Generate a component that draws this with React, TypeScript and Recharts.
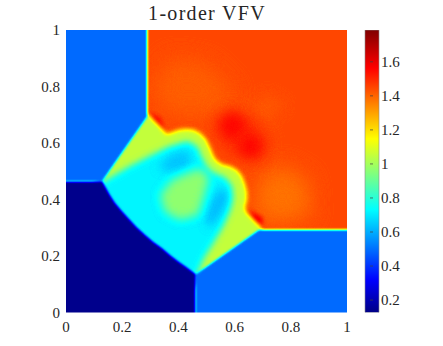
import React from 'react';
import { ScatterChart, Scatter, XAxis, YAxis, BarChart, Bar } from 'recharts';

type P = [number, number];
const title = '1-order VFV';
const xTicks = [0, 0.2, 0.4, 0.6, 0.8, 1];
const yTicks = [0, 0.2, 0.4, 0.6, 0.8, 1];
const cbarTicks = [0.2, 0.4, 0.6, 0.8, 1, 1.2, 1.4, 1.6];
const cbarRange: [number, number] = [0.127, 1.787];

// Level-set outlines of the density field, in data units.
const domainBox: P[] = [[-0.1, -0.1], [1.1, -0.1], [1.1, 1.1], [-0.1, 1.1]];
const orangeTop: P[] = [[0.3, 0.8], [0.38, 0.9], [0.5, 0.88], [0.6, 0.78], [0.52, 0.7], [0.36, 0.7]];
const orangeRight: P[] = [[0.66, 0.724], [0.715, 0.775], [0.78, 0.735], [0.715, 0.68]];
const orangeLow: P[] = [[0.69, 0.48], [0.77, 0.52], [0.86, 0.47], [0.87, 0.34], [0.72, 0.31], [0.665, 0.38]];
const redBand: P[] = [[0.52, 0.67], [0.59, 0.72], [0.66, 0.68], [0.72, 0.6], [0.69, 0.53], [0.62, 0.55], [0.56, 0.6]];
const redSpotA: P[] = [[0.548, 0.664], [0.591, 0.706], [0.637, 0.664], [0.591, 0.618]];
const redSpotB: P[] = [[0.619, 0.586], [0.655, 0.628], [0.698, 0.586], [0.655, 0.547]];
const redCornerA: P[] = [[0.292, 0.71], [0.335, 0.688], [0.352, 0.639], [0.299, 0.664]];
const redCornerB: P[] = [[0.648, 0.363], [0.698, 0.335], [0.698, 0.299], [0.662, 0.32]];
const mushroom: P[] = [[0.292, 0.703], [0.327, 0.667], [0.359, 0.632], [0.377, 0.638], [0.399, 0.646], [0.423, 0.65], [0.452, 0.648], [0.477, 0.635], [0.498, 0.614], [0.512, 0.586], [0.523, 0.558], [0.534, 0.54], [0.555, 0.525], [0.584, 0.518], [0.609, 0.504], [0.626, 0.483], [0.637, 0.455], [0.644, 0.426], [0.644, 0.398], [0.637, 0.373], [0.641, 0.356], [0.655, 0.342], [0.694, 0.303], [0.698, 0.257], [0.441, 0.079], [0.085, 0.434], [0.263, 0.699]];
const cavity: P[] = [[0.135, 0.465], [0.221, 0.515], [0.306, 0.558], [0.363, 0.586], [0.431, 0.607], [0.466, 0.589], [0.484, 0.55], [0.502, 0.515], [0.527, 0.494], [0.566, 0.48], [0.591, 0.448], [0.594, 0.409], [0.587, 0.37], [0.562, 0.31], [0.527, 0.25], [0.491, 0.193], [0.47, 0.143], [0.441, 0.097], [0.085, 0.434]];
const lobeUpper: P[] = [[0.327, 0.511], [0.37, 0.558], [0.423, 0.575], [0.448, 0.554], [0.434, 0.518], [0.377, 0.497]];
const lobeRight: P[] = [[0.555, 0.448], [0.577, 0.409], [0.555, 0.356], [0.512, 0.299], [0.498, 0.327], [0.52, 0.398]];
const greenCore: P[] = [[0.335, 0.416], [0.377, 0.469], [0.441, 0.497], [0.477, 0.51], [0.51, 0.48], [0.491, 0.409], [0.47, 0.345], [0.406, 0.327], [0.352, 0.356]];
const blueNW: P[] = [[-0.1, 1.1], [0.289, 1.1], [0.289, 0.693], [0.129, 0.465], [-0.1, 0.465]];
const blueSE: P[] = [[0.4615, -0.1], [1.1, -0.1], [1.1, 0.293], [0.687, 0.293], [0.4615, 0.135]];
const navySW: P[] = [[-0.1, -0.1], [0.4615, -0.1], [0.4615, 0.135], [0.453, 0.142], [0.428, 0.16], [0.4, 0.18], [0.37, 0.203], [0.341, 0.227], [0.31, 0.25], [0.281, 0.274], [0.25, 0.303], [0.222, 0.333], [0.197, 0.36], [0.174, 0.388], [0.155, 0.417], [0.139, 0.445], [0.129, 0.465], [-0.1, 0.465]];

// outline, field value, softness in px; painted in this order
const layers: [P[], number, number][] = [
  [domainBox, 1.45, 0],
  [orangeTop, 1.41, 10],
  [orangeRight, 1.42, 6],
  [orangeLow, 1.38, 10],
  [redBand, 1.52, 8],
  [redSpotA, 1.56, 6],
  [redSpotB, 1.56, 6],
  [redCornerA, 1.6, 2.5],
  [redCornerB, 1.62, 2.5],
  [mushroom, 1.05, 2.2],
  [cavity, 0.72, 3],
  [lobeUpper, 0.64, 4],
  [lobeRight, 0.62, 4],
  [greenCore, 0.97, 5],
  [blueNW, 0.49, 1],
  [blueSE, 0.49, 1],
  [navySW, 0.14, 1],
];
const fieldPoints = layers.flatMap(([poly]) => poly.map(([x, y]) => ({ x, y })));

const jetStops: [number, number, number, number][] = [
  [0, 0, 0, 0.52], [0.115, 0, 0, 1], [0.365, 0, 1, 1], [0.615, 1, 1, 0], [0.865, 1, 0, 0], [1, 0.5, 0, 0],
];
const jetAt = (t: number, c: number) => {
  for (let i = 1; i < jetStops.length; i++) {
    const a = jetStops[i - 1], b = jetStops[i];
    if (t <= b[0]) return a[c] + ((b[c] - a[c]) * (t - a[0])) / (b[0] - a[0]);
  }
  return jetStops[jetStops.length - 1][c];
};
const tableSteps = Array.from({ length: 129 }, (_, i) => i / 128);
const table = (c: number) => tableSteps.map((t) => jetAt(t, c).toFixed(4)).join(' ');
const grayOf = (v: number) => {
  const g = Math.round((255 * (v - cbarRange[0])) / (cbarRange[1] - cbarRange[0]));
  return `rgb(${g},${g},${g})`;
};
const blurs = Array.from(new Set(layers.map((l) => l[2]))).filter((b) => b > 0);
const blurId = (b: number) => `blur${String(b).replace('.', '_')}`;
const region = { filterUnits: 'userSpaceOnUse' as const, x: -50, y: -50, width: 543, height: 446, colorInterpolationFilters: 'sRGB' as const };

function Field(props: any) {
  const pts: { x: number; y: number }[] = props.points;
  let at = 0;
  return (
    <g>
      <defs>
        {blurs.map((b) => (
          <filter key={b} id={blurId(b)} {...region}>
            <feGaussianBlur stdDeviation={b} />
          </filter>
        ))}
        <filter id="jetMap" {...region}>
          <feComponentTransfer>
            <feFuncR type="table" tableValues={table(1)} />
            <feFuncG type="table" tableValues={table(2)} />
            <feFuncB type="table" tableValues={table(3)} />
          </feComponentTransfer>
        </filter>
      </defs>
      <g filter="url(#jetMap)">
        {layers.map(([poly, v, b], i) => {
          const seg = pts.slice(at, at + poly.length);
          at += poly.length;
          return (
            <polygon
              key={i}
              points={seg.map((p) => `${p.x},${p.y}`).join(' ')}
              fill={grayOf(v)}
              stroke="none"
              filter={b > 0 ? `url(#${blurId(b)})` : undefined}
            />
          );
        })}
      </g>
    </g>
  );
}

const FONT = 'Liberation Serif';
const tickStyle = { fontFamily: FONT, fontSize: 15, fill: '#262626', style: { fontFamily: FONT } };
const cbarData = [{ name: 'density', range: cbarRange }];

function CbarTick(props: any) {
  const { x, y, payload } = props;
  return (
    <g>
      <line x1={x - 17} x2={x - 14} y1={y} y2={y} stroke="#404040" strokeWidth={0.7} />
      <text x={x - 6} y={y + 5} {...tickStyle} textAnchor="start">{String(payload.value)}</text>
    </g>
  );
}

export default function App() {
  return (
    <div style={{ position: 'absolute', left: 0, top: 0, width: 443, height: 346, background: '#fff', fontFamily: FONT }}>
      <div style={{ position: 'absolute', left: 0, top: 0 }}>
        <ScatterChart width={443} height={346} margin={{ top: 30, left: 0, right: 96, bottom: 13.5 }} style={{ fontFamily: FONT }}>
          <text x={207} y={20} textAnchor="middle" fontFamily={FONT} style={{ fontFamily: FONT }} fontSize={20} letterSpacing={1.3} fill="#262626">{title}</text>
          <XAxis type="number" dataKey="x" domain={[0, 1]} allowDataOverflow ticks={xTicks} interval={0} height={20} axisLine={false} tickLine={false} tickMargin={3} tick={tickStyle} />
          <YAxis type="number" dataKey="y" domain={[0, 1]} allowDataOverflow ticks={yTicks} interval={0} width={66} axisLine={false} tickLine={false} tickMargin={0} tick={tickStyle} />
          <Scatter data={fieldPoints} isAnimationActive={false} shape={() => null} line={(p: any) => <Field {...p} />} />
        </ScatterChart>
      </div>
      <div style={{ position: 'absolute', left: 355, top: 0 }}>
        <BarChart width={88} height={346} data={cbarData} barCategoryGap={0} margin={{ top: 30, left: 10, right: 0, bottom: 33.5 }} style={{ fontFamily: FONT }}>
          <defs>
            <linearGradient id="jetBar" x1="0" y1="1" x2="0" y2="0">
              {jetStops.map((s) => (
                <stop key={s[0]} offset={s[0]} stopColor={`rgb(${Math.round(s[1] * 255)},${Math.round(s[2] * 255)},${Math.round(s[3] * 255)})`} />
              ))}
            </linearGradient>
          </defs>
          <XAxis dataKey="name" hide />
          <YAxis type="number" orientation="right" domain={cbarRange} allowDataOverflow ticks={cbarTicks} interval={0} width={64} axisLine={false} tickLine={false} tick={<CbarTick />} />
          <Bar dataKey="range" fill="url(#jetBar)" stroke="#8a8a8a" strokeWidth={0.6} isAnimationActive={false} />
        </BarChart>
      </div>
    </div>
  );
}
